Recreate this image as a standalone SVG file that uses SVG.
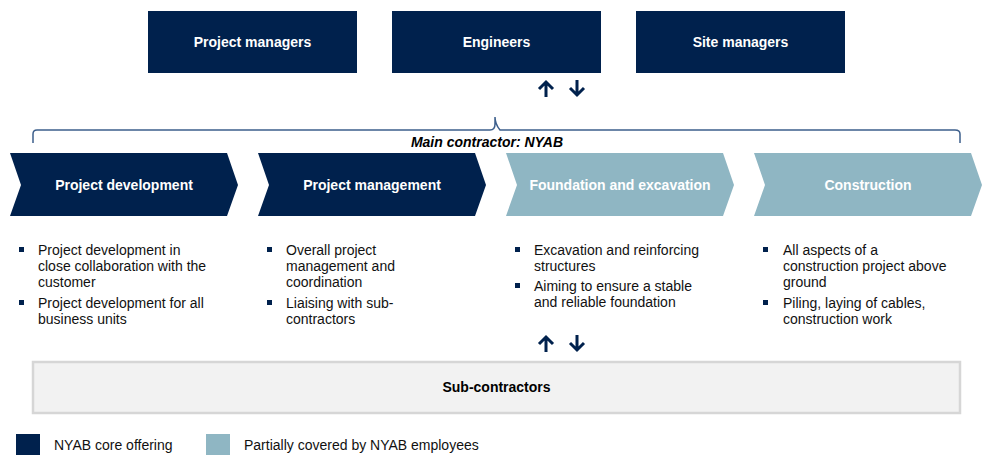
<svg xmlns="http://www.w3.org/2000/svg" width="987" height="455" viewBox="0 0 987 455">
  <style>
    .dark { fill: #00214d; }
    .light { fill: #8fb6c3; }
    .hdr { font-family: "Liberation Sans", Arial, sans-serif; font-size: 14px; font-weight: bold; fill: #ffffff; text-anchor: middle; }
    .body { font-family: "Liberation Sans", Arial, sans-serif; font-size: 14px; fill: #111111; }
    .bul { fill: #00214d; }
    .arrow { fill: none; stroke: #00214d; stroke-width: 3; stroke-linecap: butt; stroke-linejoin: miter; }
    .brace { fill: none; stroke: #3d5f8c; stroke-width: 1.5; }
  </style>

  <!-- Roles -->
  <g id="project-managers">
    <rect class="dark" x="148" y="11" width="209" height="62"/>
    <text class="hdr" x="252.5" y="47">Project managers</text>
  </g>
  <g id="engineers">
    <rect class="dark" x="392" y="11" width="209" height="62"/>
    <text class="hdr" x="496.5" y="47">Engineers</text>
  </g>
  <g id="site-managers">
    <rect class="dark" x="636" y="11" width="209" height="62"/>
    <text class="hdr" x="740.5" y="47">Site managers</text>
  </g>

  <!-- Connectors: two-way arrows and brace -->
  <g id="connectors">
    <g id="arrows-top">
      <path class="arrow" d="M546,97 V82 M539,89 L546,82 L553,89"/>
      <path class="arrow" d="M577,80 V95 M570,88 L577,95 L584,88"/>
    </g>
    <g id="arrows-bottom">
      <path class="arrow" d="M546,352 V337 M539,344 L546,337 L553,344"/>
      <path class="arrow" d="M577,335 V350 M570,343 L577,350 L584,343"/>
    </g>
    <path class="brace" d="M33,143 V134 Q33,130 37,130 H490 Q495,130 495,124 V117 Q495,124 500,130 H955 Q960,130 960,134 V143"/>
  </g>
  <text x="487" y="147" font-family="'Liberation Sans', Arial, sans-serif" font-size="14" font-weight="bold" font-style="italic" fill="#000000" text-anchor="middle">Main contractor: NYAB</text>

  <!-- Process chevrons -->
  <g id="project-development">
    <polygon class="dark" points="10,153 227,153 238,185 227,216 10,216 21,185"/>
    <text class="hdr" x="124" y="190">Project development</text>
    <rect class="bul" x="19" y="247" width="5" height="5"/>
    <text class="body" x="38" y="255">Project development in</text>
    <text class="body" x="38" y="271">close collaboration with the</text>
    <text class="body" x="38" y="287">customer</text>
    <rect class="bul" x="19" y="300" width="5" height="5"/>
    <text class="body" x="38" y="308">Project development for all</text>
    <text class="body" x="38" y="324">business units</text>
  </g>
  <g id="project-management">
    <polygon class="dark" points="258,153 475,153 486,185 475,216 258,216 269,185"/>
    <text class="hdr" x="372" y="190">Project management</text>
    <rect class="bul" x="267" y="247" width="5" height="5"/>
    <text class="body" x="286" y="255">Overall project</text>
    <text class="body" x="286" y="271">management and</text>
    <text class="body" x="286" y="287">coordination</text>
    <rect class="bul" x="267" y="300" width="5" height="5"/>
    <text class="body" x="286" y="308">Liaising with sub-</text>
    <text class="body" x="286" y="324">contractors</text>
  </g>
  <g id="foundation-excavation">
    <polygon class="light" points="506,153 723,153 734,185 723,216 506,216 517,185"/>
    <text class="hdr" x="620" y="190">Foundation and excavation</text>
    <rect class="bul" x="515" y="247" width="5" height="5"/>
    <text class="body" x="534" y="255">Excavation and reinforcing</text>
    <text class="body" x="534" y="271">structures</text>
    <rect class="bul" x="515" y="283" width="5" height="5"/>
    <text class="body" x="534" y="291">Aiming to ensure a stable</text>
    <text class="body" x="534" y="307">and reliable foundation</text>
  </g>
  <g id="construction">
    <polygon class="light" points="754,153 971,153 982,185 971,216 754,216 765,185"/>
    <text class="hdr" x="868" y="190">Construction</text>
    <rect class="bul" x="763" y="247" width="5" height="5"/>
    <text class="body" x="783" y="255">All aspects of a</text>
    <text class="body" x="783" y="271">construction project above</text>
    <text class="body" x="783" y="287">ground</text>
    <rect class="bul" x="763" y="300" width="5" height="5"/>
    <text class="body" x="783" y="308">Piling, laying of cables,</text>
    <text class="body" x="783" y="324">construction work</text>
  </g>

  <!-- Sub-contractors -->
  <g id="sub-contractors">
    <rect x="33" y="362" width="927" height="51" fill="#f2f2f2" stroke="#d6d6d6" stroke-width="2.5"/>
    <text x="496.5" y="392" font-family="'Liberation Sans', Arial, sans-serif" font-size="14" font-weight="bold" fill="#000000" text-anchor="middle">Sub-contractors</text>
  </g>

  <!-- Legend -->
  <g id="legend">
    <rect class="dark" x="16" y="434" width="24" height="21"/>
    <text class="body" x="54" y="450">NYAB core offering</text>
    <rect class="light" x="206" y="434" width="24" height="21"/>
    <text class="body" x="244" y="450">Partially covered by NYAB employees</text>
  </g>
</svg>
